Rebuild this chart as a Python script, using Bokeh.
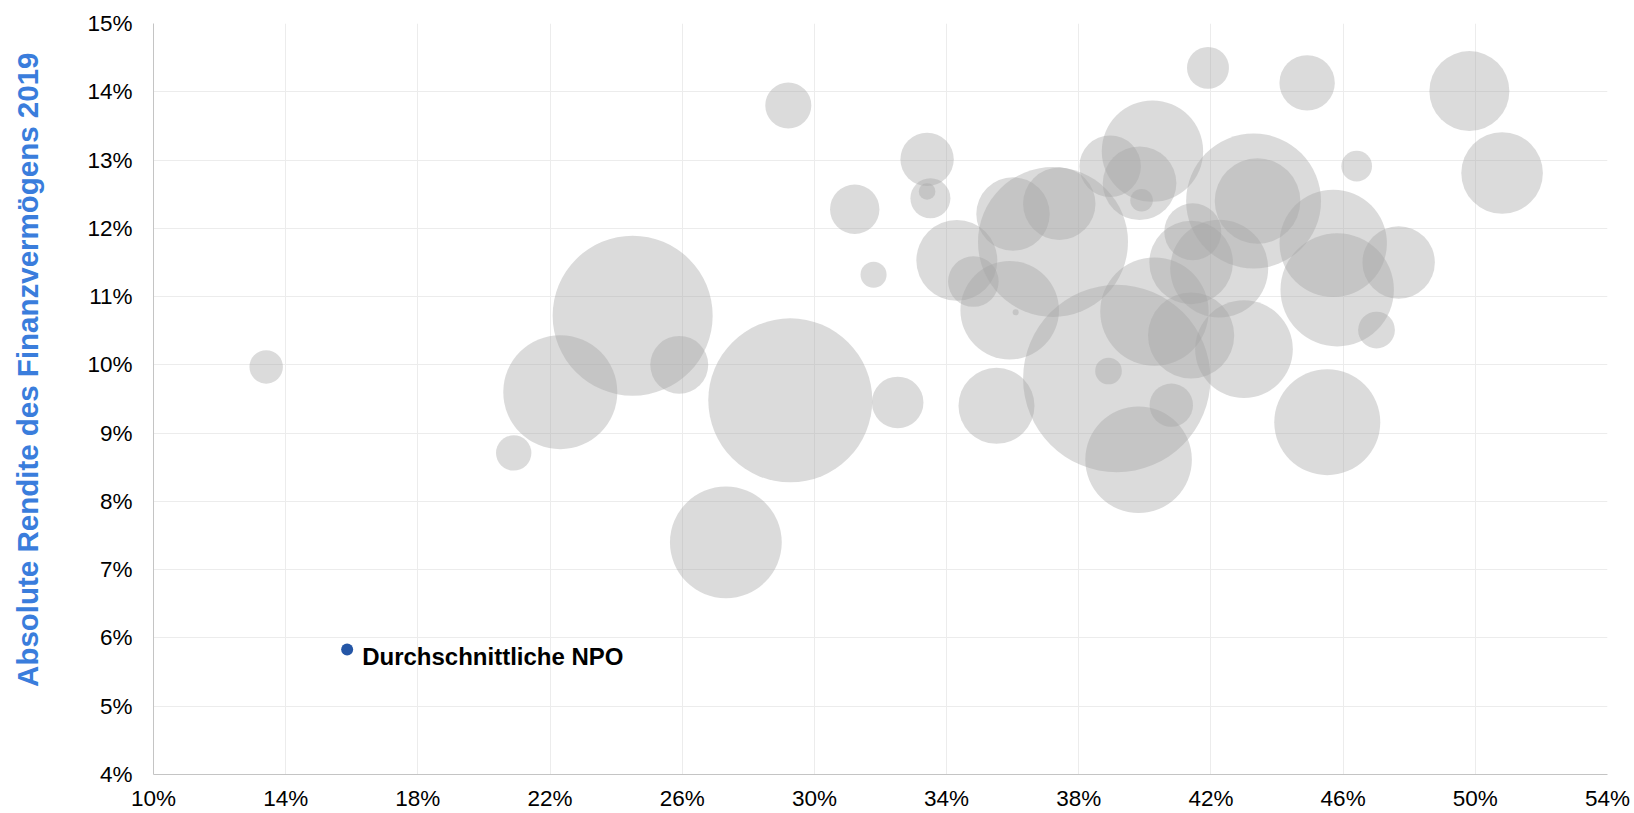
import math
from bokeh.plotting import figure
from bokeh.models import Range1d, FixedTicker, PrintfTickFormatter, ColumnDataSource, Title
from bokeh.core.properties import value
from bokeh.embed import file_html
from bokeh.resources import INLINE

# Anteil (x, %), absolute Rendite des Finanzvermögens 2019 (y, %), Finanzvermögen (Bubble-Fläche)
anteil = [13.41, 20.90, 22.31, 24.50, 25.91, 27.32, 29.27, 29.21, 31.22, 31.79,
          32.52, 33.41, 33.51, 33.41, 34.31, 34.81, 36.01, 35.51, 35.91, 36.09,
          37.22, 37.41, 39.15, 38.90, 39.81, 40.80, 40.29, 41.40, 43.00, 41.40,
          42.25, 41.45, 43.29, 43.41, 38.95, 40.23, 39.84, 39.90, 41.91, 44.91,
          49.82, 50.81, 46.41, 45.70, 45.82, 47.68, 47.01, 45.52]
rendite = [9.97, 8.71, 9.60, 10.72, 10.00, 7.40, 9.48, 13.80, 12.28, 11.32,
           9.45, 13.01, 12.44, 12.54, 11.53, 11.22, 12.21, 9.40, 10.80, 10.77,
           11.80, 12.36, 9.80, 9.91, 8.61, 9.41, 10.78, 10.43, 10.23, 11.50,
           11.41, 11.95, 12.40, 12.40, 12.91, 13.13, 12.66, 12.41, 14.35, 14.13,
           14.01, 12.81, 12.91, 11.78, 11.10, 11.50, 10.51, 9.16]
vermoegen = [11.2, 12.5, 130, 256, 33.6, 125, 269, 21.2, 24.4, 6.8,
             26.6, 28.5, 16.0, 2.76, 65.6, 25.6, 53.9, 57.8, 97.2, 0.36,
             225, 52.4, 351, 7.1, 113.6, 18.8, 117.5, 74.3, 95.3, 69.9,
             96, 32.5, 182, 73.3, 37.9, 102.8, 54.2, 5.1, 17.6, 30.7,
             64, 66.6, 9.4, 115.3, 128.6, 52.4, 13.5, 112.4]

npo_x = [15.86]
npo_y = [5.83]
npo_name = ["Durchschnittliche NPO"]

x_ticks = [10, 14, 18, 22, 26, 30, 34, 38, 42, 46, 50, 54]
y_ticks = [4, 5, 6, 7, 8, 9, 10, 11, 12, 13, 14, 15]
y_title = "Absolute Rendite des Finanzvermögens 2019"

FONT = "Liberation Sans"

p = figure(width=1634, height=813,
           x_range=Range1d(10, 54), y_range=Range1d(4, 15),
           output_backend="svg", toolbar_location=None,
           min_border_left=153, min_border_right=27,
           min_border_top=23, min_border_bottom=38)
p.outline_line_color = None
p.background_fill_color = "white"
p.border_fill_color = "white"

# grids
p.xgrid.ticker = FixedTicker(ticks=x_ticks)
p.ygrid.ticker = FixedTicker(ticks=y_ticks)
p.xgrid.grid_line_color = "#ececec"
p.ygrid.grid_line_color = "#ececec"

for ax in (p.xaxis, p.yaxis):
    ax.major_tick_out = 0
    ax.major_tick_in = 0
    ax.minor_tick_out = 0
    ax.minor_tick_in = 0
    ax.formatter = PrintfTickFormatter(format="%d%%")
    ax.major_label_text_font = FONT
    ax.major_label_text_font_size = "22.5px"
    ax.major_label_text_color = "#000000"
    ax.axis_line_color = "#c4c4c4"

p.yaxis.ticker = FixedTicker(ticks=y_ticks)
p.yaxis.major_label_standoff = 21
# invisible spacer label: pushes the side title further out
p.yaxis.axis_label = " "
p.yaxis.axis_label_standoff = 25
p.yaxis.axis_label_text_font_size = "1px"
p.yaxis.axis_label_text_alpha = 0
p.xaxis.ticker = FixedTicker(ticks=x_ticks)
p.xaxis.major_label_standoff = 11

p.add_layout(Title(text=y_title, align="right", vertical_align="top", offset=29, standoff=19,
                   text_font=FONT, text_font_style="bold", text_font_size="29.5px",
                   text_color="#3a7ddc"), "left")

bsrc = ColumnDataSource(dict(x=anteil, y=rendite, v=vermoegen,
                             d=[10 * math.sqrt(v) for v in vermoegen]))
p.scatter("x", "y", size="d", source=bsrc, fill_color="#a4a4a4",
          fill_alpha=0.4, line_color=None)

nsrc = ColumnDataSource(dict(x=npo_x, y=npo_y, t=npo_name))
p.scatter("x", "y", size=12, source=nsrc, fill_color="#2456a6", line_color=None)
p.text("x", "y", text="t", source=nsrc, x_offset=15, y_offset=7,
       text_font=value(FONT), text_font_style="bold", text_font_size="24px",
       text_color="#000000", text_baseline="middle", text_align="left")

open("out.html", "w").write(file_html(p, INLINE))
